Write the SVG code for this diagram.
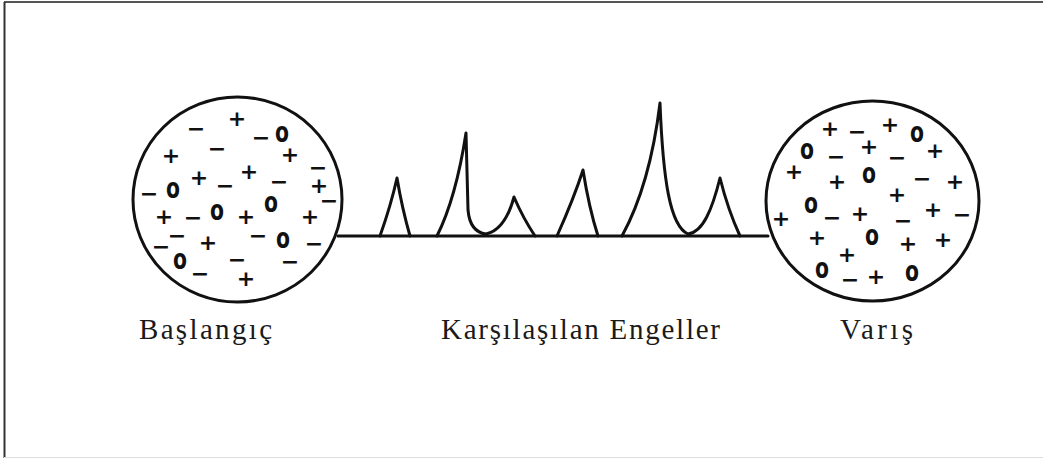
<svg xmlns="http://www.w3.org/2000/svg" width="1043" height="458" viewBox="0 0 1043 458">
<style>
.ring{fill:none;stroke:#111;stroke-width:3}
.p{font-family:"DejaVu Sans",sans-serif;font-weight:bold;font-size:22px;fill:#111;text-anchor:middle}
.o{font-family:"DejaVu Sans",sans-serif;font-weight:bold;font-size:29px;fill:#111}
.lbl{font-family:"Liberation Serif","Times New Roman",serif;font-size:29px;fill:#1a1a1a}
.wire{fill:none;stroke:#111;stroke-width:3;stroke-linejoin:round;stroke-linecap:round}
</style>
<rect x="0" y="0" width="1043" height="458" fill="#fff"/>
<line x1="4" y1="2" x2="1043" y2="2" stroke="#555" stroke-width="2"/>
<line x1="4.5" y1="2" x2="4.5" y2="458" stroke="#333" stroke-width="2"/>
<line x1="4" y1="457.5" x2="1043" y2="457.5" stroke="#ddd" stroke-width="1"/>

<g id="connectors">
<line class="wire" x1="338" y1="236" x2="768" y2="236"/>
<path class="wire" d="M380,236 Q391,205 397,178 Q402,208 410,236"/>
<path class="wire" d="M437,236 Q456,198 466,133 L468,210 Q470,232 486,234 Q505,230 514,197 Q523,218 535,236"/>
<path class="wire" d="M557,236 Q574,198 583,170 Q589,208 598,236"/>
<path class="wire" d="M622,236 Q650,185 660,103 C663,180 670,226 688,234 C703,232 712,210 720,178 Q728,210 740,236"/>
</g>

<g id="node-baslangic">
<ellipse class="ring" cx="237.5" cy="199.5" rx="104.5" ry="102.5"/>
<text class="p" x="237" y="126">+</text>
<text class="p" x="196" y="136">−</text>
<text class="p" x="261" y="145">−</text>
<text class="o" x="275" y="141.5" textLength="14" lengthAdjust="spacingAndGlyphs">o</text>
<text class="p" x="171" y="163">+</text>
<text class="p" x="217" y="156">−</text>
<text class="p" x="290" y="162">+</text>
<text class="p" x="318" y="175">−</text>
<text class="p" x="249" y="179">+</text>
<text class="p" x="199" y="185">+</text>
<text class="p" x="225" y="193">−</text>
<text class="p" x="279" y="189">−</text>
<text class="p" x="319" y="193">+</text>
<text class="p" x="329" y="208">−</text>
<text class="p" x="149" y="201">−</text>
<text class="o" x="166" y="197.5" textLength="14" lengthAdjust="spacingAndGlyphs">o</text>
<text class="o" x="264" y="211.5" textLength="14" lengthAdjust="spacingAndGlyphs">o</text>
<text class="p" x="164" y="224">+</text>
<text class="p" x="193" y="225">−</text>
<text class="o" x="210" y="219.5" textLength="14" lengthAdjust="spacingAndGlyphs">o</text>
<text class="p" x="246" y="224">+</text>
<text class="p" x="310" y="224">+</text>
<text class="p" x="177" y="243">−</text>
<text class="p" x="258" y="243">−</text>
<text class="o" x="276" y="247.5" textLength="14" lengthAdjust="spacingAndGlyphs">o</text>
<text class="p" x="208" y="250">+</text>
<text class="p" x="161" y="254">−</text>
<text class="p" x="314" y="251">−</text>
<text class="o" x="173" y="268.5" textLength="14" lengthAdjust="spacingAndGlyphs">o</text>
<text class="p" x="237" y="267">−</text>
<text class="p" x="290" y="269">−</text>
<text class="p" x="200" y="281">−</text>
<text class="p" x="246" y="286">+</text>
<text class="lbl" x="139" y="339" textLength="133" lengthAdjust="spacing">Başlangıç</text>
</g>

<g id="node-engeller">
<text class="lbl" x="441" y="339" textLength="279" lengthAdjust="spacing">Karşılaşılan Engeller</text>
</g>

<g id="node-varis">
<ellipse class="ring" cx="872.5" cy="201" rx="106.5" ry="100"/>
<text class="p" x="830" y="136">+</text>
<text class="p" x="857" y="139">−</text>
<text class="p" x="890" y="132">+</text>
<text class="o" x="910" y="141.5" textLength="14" lengthAdjust="spacingAndGlyphs">o</text>
<text class="o" x="800" y="158.5" textLength="14" lengthAdjust="spacingAndGlyphs">o</text>
<text class="p" x="836" y="164">−</text>
<text class="p" x="869" y="154">+</text>
<text class="p" x="897" y="165">−</text>
<text class="p" x="935" y="158">+</text>
<text class="p" x="794" y="179">+</text>
<text class="p" x="837" y="189">+</text>
<text class="o" x="862" y="182.5" textLength="14" lengthAdjust="spacingAndGlyphs">o</text>
<text class="p" x="922" y="186">−</text>
<text class="p" x="955" y="189">+</text>
<text class="p" x="897" y="202">+</text>
<text class="o" x="804" y="212.5" textLength="14" lengthAdjust="spacingAndGlyphs">o</text>
<text class="p" x="832" y="225">−</text>
<text class="p" x="860" y="221">+</text>
<text class="p" x="903" y="228">−</text>
<text class="p" x="933" y="217">+</text>
<text class="p" x="962" y="222">−</text>
<text class="p" x="781" y="226">+</text>
<text class="p" x="817" y="245">+</text>
<text class="o" x="865" y="244.5" textLength="14" lengthAdjust="spacingAndGlyphs">o</text>
<text class="p" x="908" y="251">+</text>
<text class="p" x="943" y="247">+</text>
<text class="p" x="847" y="262">+</text>
<text class="o" x="815" y="277.5" textLength="14" lengthAdjust="spacingAndGlyphs">o</text>
<text class="p" x="850" y="287">−</text>
<text class="p" x="876" y="284">+</text>
<text class="o" x="905" y="280.5" textLength="14" lengthAdjust="spacingAndGlyphs">o</text>
<text class="lbl" x="840" y="339" textLength="73" lengthAdjust="spacing">Varış</text>
</g>
</svg>
